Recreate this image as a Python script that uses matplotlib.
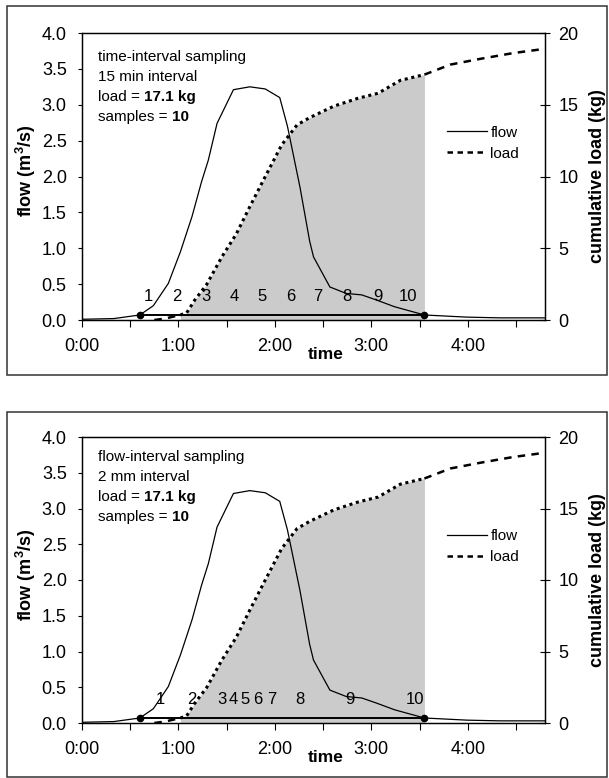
import matplotlib
matplotlib.use("Agg")
import matplotlib.pyplot as plt
from matplotlib.lines import Line2D
from matplotlib.patches import Rectangle
from matplotlib.ticker import FixedLocator, FuncFormatter
import numpy as np

plt.rcParams["font.family"] = ["Liberation Sans", "DejaVu Sans"]
plt.rcParams["mathtext.fontset"] = "custom"
plt.rcParams["mathtext.rm"] = "Liberation Sans"
plt.rcParams["mathtext.bf"] = "Liberation Sans:bold"

# --- data (time in hours) ---
flow_t = np.array([0.0, 0.33, 0.60, 0.74, 0.895, 1.02, 1.14, 1.24, 1.31, 1.40,
                   1.57, 1.74, 1.90, 2.05, 2.13, 2.26, 2.36, 2.40, 2.57, 2.74,
                   2.90, 3.05, 3.24, 3.55, 3.99, 4.33, 4.80])
flow_q = np.array([0.01, 0.02, 0.07, 0.20, 0.51, 0.95, 1.44, 1.93, 2.23, 2.74,
                   3.21, 3.25, 3.22, 3.10, 2.70, 1.85, 1.10, 0.88, 0.46, 0.37,
                   0.35, 0.28, 0.185, 0.07, 0.04, 0.03, 0.03])

load_t = np.array([0.75, 0.86, 1.02, 1.085, 1.17, 1.29, 1.45, 1.60, 1.74, 1.90,
                   2.07, 2.23, 2.36, 2.61, 2.86, 3.07, 3.30, 3.55, 3.82, 4.13,
                   4.47, 4.80])
load_kg = np.array([0.0, 0.1, 0.35, 0.5, 1.4, 2.45, 4.4, 6.0, 7.9, 10.0,
                    12.2, 13.6, 14.1, 14.9, 15.45, 15.8, 16.7, 17.1, 17.8, 18.2,
                    18.6, 18.9])

sample_t = [0.60, 3.55]
sample_q = [0.07, 0.07]

labels_top_t = [0.684, 0.985, 1.285, 1.576, 1.866, 2.167, 2.447, 2.747, 3.069, 3.38]
labels_bot_t = [0.81, 1.14, 1.45, 1.57, 1.69, 1.82, 1.97, 2.26, 2.78, 3.45]
sample_names = ["1", "2", "3", "4", "5", "6", "7", "8", "9", "10"]

panels = [
    {"title": "time-interval sampling", "interval": "15 min interval",
     "load": "17.1 kg", "samples": "10", "label_t": labels_top_t},
    {"title": "flow-interval sampling", "interval": "2 mm interval",
     "load": "17.1 kg", "samples": "10", "label_t": labels_bot_t},
]

W, H = 609, 778
fig = plt.figure(figsize=(W / 100, H / 100), dpi=100)

# pixel layout: (plot left, right, top, bottom), (box top, box bottom)
layout = [((82, 545, 33, 320), (6, 375)),
          ((82, 545, 437, 723), (412, 777))]

fill_mask = (load_t >= 1.02) & (load_t <= 3.55)
i0 = int(np.argmax(load_t >= 1.02))
i1 = int(np.argmax(load_t >= 3.55))


def hour_fmt(v, pos):
    return f"{int(round(v))}:00"


for panel, ((l, r, t, b), (bt, bb)) in zip(panels, layout):
    fig.add_artist(Rectangle((7 / W, 1 - bb / H), 600 / W, (bb - bt) / H,
                             transform=fig.transFigure, fill=False,
                             lw=1.1, ec="0.2"))

    ax = fig.add_axes([l / W, 1 - b / H, (r - l) / W, (b - t) / H])
    ax2 = ax.twinx()
    ax.set_zorder(ax2.get_zorder() + 1)
    ax.patch.set_visible(False)

    # load axis: shaded area + load curve
    ax2.fill_between(load_t, 0, load_kg, where=fill_mask, color="#cbcbcb",
                     lw=0, zorder=1)
    ax2.plot(load_t[:i0 + 1], load_kg[:i0 + 1], color="black", lw=1.8,
             dashes=(3, 2.5), zorder=2)
    ax2.plot(load_t[i0:i1 + 1], load_kg[i0:i1 + 1], color="black", lw=2.2,
             linestyle=(0, (1, 1.2)), zorder=2)
    ax2.plot(load_t[i1:], load_kg[i1:], color="black", lw=1.8,
             dashes=(3, 2.5), zorder=2)
    ax2.set_ylim(0, 20)
    ax2.set_yticks([0, 5, 10, 15, 20])
    ax2.tick_params(axis="y", direction="inout", length=7, width=0.8,
                    labelsize=13, pad=6)
    ax2.set_ylabel("cumulative load (kg)", fontsize=13, fontweight="bold")
    ax2.yaxis.set_label_coords(1.096, 0.5)

    # flow axis
    ax.plot(flow_t, flow_q, color="black", lw=0.9, zorder=3)
    ax.plot(sample_t, sample_q, color="black", lw=1.4, marker="o",
            markersize=4.5, zorder=4)
    for name, st in zip(sample_names, panel["label_t"]):
        ax.text(st, 0.33, name, fontsize=12, ha="center", va="center", zorder=5)

    ax.set_xlim(0, 4.8)
    ax.set_ylim(0, 4)
    ax.set_yticks(np.arange(0, 4.01, 0.5))
    ax.yaxis.set_major_formatter(FuncFormatter(lambda v, p: f"{v:.1f}"))
    ax.xaxis.set_major_locator(FixedLocator([0, 1, 2, 3, 4]))
    ax.xaxis.set_minor_locator(FixedLocator([0.5, 1.5, 2.5, 3.5, 4.5]))
    ax.xaxis.set_major_formatter(FuncFormatter(hour_fmt))
    ax.tick_params(axis="x", which="both", direction="out", length=5,
                   width=0.8, labelsize=13, pad=8)
    ax.tick_params(axis="y", direction="out", length=3, width=0.8,
                   labelsize=13, pad=8)
    ax2.tick_params(axis="x", which="both", length=0)

    for a in (ax, ax2):
        for sp in a.spines.values():
            sp.set_linewidth(0.9)

    ax.set_xlabel("time", fontsize=12.5, fontweight="bold")
    ax.xaxis.set_label_coords(0.527, -0.095)
    ax.set_ylabel(r"flow (m$^\mathbf{3}$/s)", fontsize=13, fontweight="bold")
    ax.yaxis.set_label_coords(-0.095, 0.52)

    # annotation block
    x0 = 0.035
    y_top = 0.917 if panel is panels[0] else 0.931
    step = 20 / 287
    ax.text(x0, y_top, panel["title"], transform=ax.transAxes, fontsize=11,
            va="center")
    ax.text(x0, y_top - step, panel["interval"], transform=ax.transAxes,
            fontsize=11, va="center")
    t1 = ax.text(x0, y_top - 2 * step, "load = ", transform=ax.transAxes,
                 fontsize=11, va="center")
    ax.annotate(panel["load"], xy=(1, 0.5), xycoords=t1, fontsize=11,
                fontweight="bold", va="center")
    t2 = ax.text(x0, y_top - 3 * step, "samples = ", transform=ax.transAxes,
                 fontsize=11, va="center")
    ax.annotate(panel["samples"], xy=(1, 0.5), xycoords=t2, fontsize=11,
                fontweight="bold", va="center")

    handles = [Line2D([], [], color="black", lw=0.9),
               Line2D([], [], color="black", lw=1.8, dashes=(2.2, 1.8))]
    ax.legend(handles, ["flow", "load"], loc="center left",
              bbox_to_anchor=(0.788, 0.616), frameon=False, fontsize=11,
              handlelength=2.6, handletextpad=0.25, labelspacing=0.45,
              borderpad=0, borderaxespad=0)

fig.savefig("out.png", dpi=100)
